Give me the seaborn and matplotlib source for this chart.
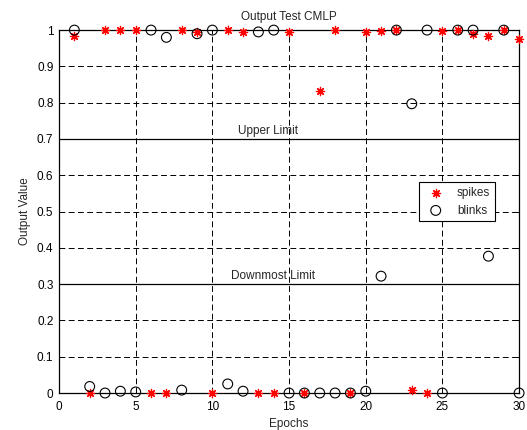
import numpy as np
import pandas as pd
import seaborn as sns
import matplotlib.pyplot as plt

# Values
epochs = list(range(1, 31))
spikes = [0.985, 0.0, 1.0, 1.0, 1.0, 0.0, 0.0, 1.0, 0.995, 0.0,
          1.0, 0.995, 0.0, 0.0, 0.995, 0.0, 0.832, 1.0, 0.0, 0.995,
          0.997, 1.0, 0.008, 0.0, 0.997, 1.0, 0.99, 0.985, 1.0, 0.975]
blinks = [1.0, 0.018, 0.0, 0.005, 0.003, 1.0, 0.98, 0.008, 0.99, 1.0,
          0.025, 0.005, 0.995, 1.0, 0.0, 0.0, 0.0, 0.0, 0.0, 0.005,
          0.322, 1.0, 0.797, 1.0, 0.0, 1.0, 1.0, 0.377, 1.0, 0.0]
upper_limit = 0.7
lower_limit = 0.3

data = pd.DataFrame({'Epochs': epochs, 'spikes': spikes, 'blinks': blinks})

sns.set_style('white')
plt.rcParams['font.family'] = ['Liberation Sans', 'DejaVu Sans']
plt.rcParams['font.size'] = 8.5

fig = plt.figure(figsize=(5.27, 4.3), dpi=100)
ax = fig.add_axes([0.112, 0.086, 0.873, 0.844])

# Limit lines
ax.axhline(upper_limit, color='black', lw=0.9, zorder=1)
ax.axhline(lower_limit, color='black', lw=0.9, zorder=1)

# Points
sns.scatterplot(data=data, x='Epochs', y='spikes', ax=ax, marker=(8, 2, 0),
                s=35, color='red', linewidth=0.9, label='spikes', zorder=3,
                clip_on=False)
sns.scatterplot(data=data, x='Epochs', y='blinks', ax=ax, marker='o',
                s=50, color='black', linewidth=0.8, label='blinks', zorder=4,
                clip_on=False)
ax.collections[-1].set_facecolor('none')
ax.collections[-1].set_edgecolor('black')

ax.set_xlim(0, 30)
ax.set_ylim(0, 1)
ax.set_xticks(np.arange(0, 31, 5))
ax.set_yticks(np.arange(0, 1.01, 0.1))
ax.set_yticklabels(['0', '0.1', '0.2', '0.3', '0.4', '0.5', '0.6', '0.7', '0.8', '0.9', '1'])
ax.grid(True, color='black', linestyle=(0, (6, 3.5)), linewidth=0.7)
ax.set_axisbelow(True)
ax.tick_params(direction='in', top=True, right=True, length=3, width=0.7,
               labelsize=8.5, colors='black')
ax.tick_params(axis='x', pad=6)
ax.tick_params(axis='y', pad=4)
for sp in ax.spines.values():
    sp.set_color('black')
    sp.set_linewidth(0.9)

ax.text(11.7, 0.705, 'Upper Limit', fontsize=8.5, va='bottom', ha='left')
ax.text(11.2, 0.305, 'Downmost Limit', fontsize=8.5, va='bottom', ha='left')

ax.set_title('Output Test CMLP', fontsize=8.5, pad=7)
ax.set_xlabel('Epochs', fontsize=8.5, labelpad=3)
ax.set_ylabel('Output Value', fontsize=8.5, labelpad=4)

leg = ax.legend(loc='upper left', bbox_to_anchor=(0.77, 0.598), frameon=True,
                fancybox=False, edgecolor='black', framealpha=1,
                borderpad=0.4, handletextpad=0.8, fontsize=8.5)
leg.get_frame().set_linewidth(0.8)

plt.savefig('out.png')
